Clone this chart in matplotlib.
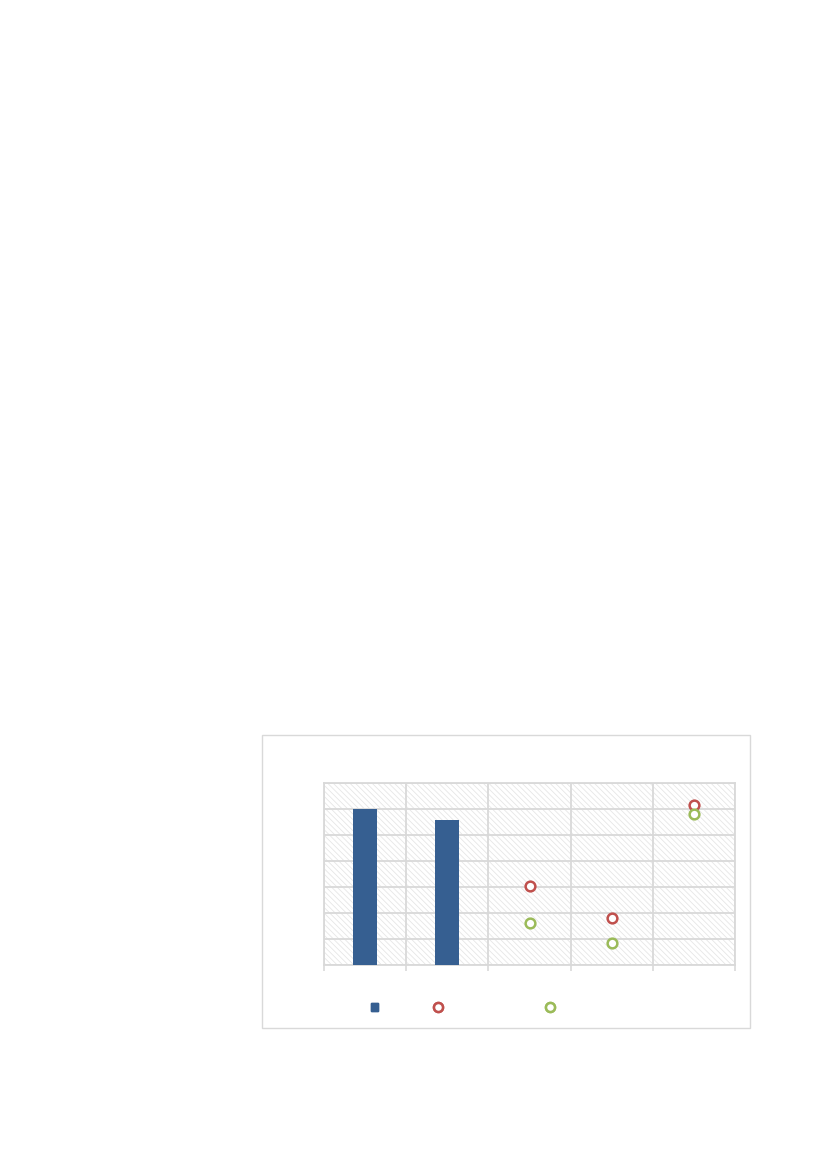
import matplotlib
matplotlib.use("Agg")
import matplotlib.pyplot as plt
from matplotlib.patches import Rectangle
from matplotlib.lines import Line2D

categories = ["A", "B", "C", "D", "E"]
bar_values = [60, 55.8, None, None, None]
red_values = [None, None, 30.4, 18.1, 61.5]
green_values = [None, None, 16.2, 8.5, 58.1]
y_ticks = [0, 10, 20, 30, 40, 50, 60, 70]

BLUE = "#365f91"
RED = "#c0504d"
GREEN = "#9bbb59"
GRID = "#d9d9d9"

plt.rcParams["hatch.linewidth"] = 0.6
fig = plt.figure(figsize=(8.26, 11.69), dpi=100)
fig.patch.set_facecolor("white")

# outer chart frame
fig.add_artist(Rectangle((262/826, 1-1028/1169), 488/826, 293/1169,
                         transform=fig.transFigure, facecolor="white",
                         edgecolor=GRID, lw=1.0, zorder=0))

ax = fig.add_axes([324/826, 1-965/1169, 411/826, 182/1169])
ax.set_facecolor("white")
ax.add_patch(Rectangle((0, 0), 1, 1, transform=ax.transAxes, hatch="\\\\\\\\\\\\",
                       facecolor="white", edgecolor="#e6e6e6", lw=0, zorder=0))

x = list(range(len(categories)))
bx = [i for i, v in zip(x, bar_values) if v is not None]
bv = [v for v in bar_values if v is not None]
ax.bar(bx, bv, width=0.29, color=BLUE, zorder=3)

rx = [i for i, v in zip(x, red_values) if v is not None]
rv = [v for v in red_values if v is not None]
gx = [i for i, v in zip(x, green_values) if v is not None]
gv = [v for v in green_values if v is not None]
ax.plot(rx, rv, ls="none", marker="o", ms=7, mfc="white", mec=RED, mew=1.8, zorder=4)
ax.plot(gx, gv, ls="none", marker="o", ms=7, mfc="white", mec=GREEN, mew=1.8, zorder=4)

ax.set_xlim(-0.5, len(categories) - 0.5)
ax.set_ylim(y_ticks[0], y_ticks[-1])
ax.set_yticks(y_ticks)
ax.set_xticks([i - 0.5 for i in range(len(categories) + 1)])
ax.tick_params(axis="x", length=4, width=1.2, color=GRID, labelbottom=False)
ax.tick_params(axis="y", length=0, labelleft=False)
ax.grid(True, color=GRID, lw=1.3, zorder=1)
ax.set_axisbelow(True)
for s in ax.spines.values():
    s.set_color(GRID)
    s.set_linewidth(1.3)

# legend entries (labels empty in reference)
h_bar = Rectangle((0, 0), 1, 1, facecolor=BLUE, edgecolor=BLUE)
h_red = Line2D([], [], ls="none", marker="o", ms=6.5, mfc="white", mec=RED, mew=1.8)
h_green = Line2D([], [], ls="none", marker="o", ms=6.5, mfc="white", mec=GREEN, mew=1.8)
for h, xpos in [(h_bar, 374), (h_red, 438), (h_green, 550)]:
    leg = fig.legend([h], [""], loc="center", frameon=False,
                     bbox_to_anchor=(xpos/826 + 0.0005, 1-1008/1169),
                     handlelength=0.6, handleheight=0.6, handletextpad=0.0,
                     borderpad=0, fontsize=9)
    fig.add_artist(leg)

fig.savefig("out.png", dpi=100, facecolor="white")
